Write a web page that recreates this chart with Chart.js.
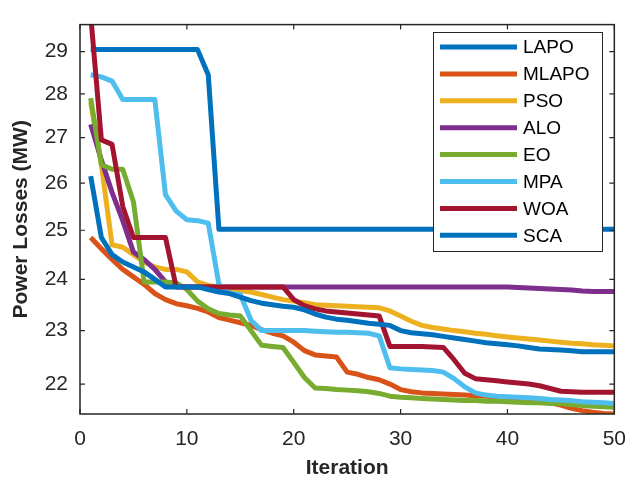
<!DOCTYPE html>
<html>
<head>
<meta charset="utf-8">
<script src="https://cdn.jsdelivr.net/npm/chart.js@4"></script>
<style>
  html, body { margin: 0; padding: 0; background: #fff; }
  #wrap { width: 639px; height: 482px; position: relative; }
</style>
</head>
<body>
<div id="wrap"><canvas id="chart"></canvas></div>
<script>
// iteration numbers on the x axis
const iterations = [1,2,3,4,5,6,7,8,9,10,11,12,13,14,15,16,17,18,19,20,21,22,23,24,25,
  26,27,28,29,30,31,32,33,34,35,36,37,38,39,40,41,42,43,44,45,46,47,48,49,50]

// power losses (MW) per algorithm
const LAPO = [29.05,29.05,29.05,29.05,29.05,29.05,29.05,29.05,29.05,29.05,29.05,28.45,25.02,25.02,25.02,
  25.02,25.02,25.02,25.02,25.02,25.02,25.02,25.02,25.02,25.02,25.02,25.02,25.02,25.02,25.02,
  25.02,25.02,25.02,25.02,25.02,25.02,25.02,25.02,25.02,25.02,25.02,25.02,25.02,25.02,25.02,
  25.02,25.02,25.02,25.02,25.02]
const MLAPO = [24.85,24.62,24.4,24.2,24.05,23.9,23.72,23.6,23.52,23.48,23.43,23.36,23.25,23.2,23.15,
  23.1,23.02,22.95,22.9,22.78,22.62,22.54,22.52,22.5,22.22,22.18,22.12,22.08,22.0,21.9,
  21.86,21.84,21.83,21.82,21.81,21.8,21.79,21.78,21.77,21.75,21.73,21.71,21.69,21.66,21.62,
  21.56,21.52,21.49,21.47,21.46]
const PSO = [27.8,26.4,24.7,24.65,24.5,24.35,24.25,24.2,24.2,24.15,23.95,23.88,23.85,23.82,23.78,
  23.75,23.7,23.65,23.6,23.57,23.54,23.5,23.49,23.48,23.47,23.46,23.45,23.44,23.38,23.28,
  23.18,23.1,23.06,23.03,23.0,22.98,22.95,22.93,22.9,22.88,22.86,22.84,22.82,22.8,22.78,
  22.76,22.75,22.73,22.72,22.71]
const ALO = [27.3,26.5,25.8,25.2,24.55,24.4,24.2,23.95,23.87,23.85,23.85,23.85,23.85,23.85,23.85,
  23.85,23.85,23.85,23.85,23.85,23.85,23.85,23.85,23.85,23.85,23.85,23.85,23.85,23.85,23.85,
  23.85,23.85,23.85,23.85,23.85,23.85,23.85,23.85,23.85,23.85,23.84,23.83,23.82,23.81,23.8,
  23.79,23.77,23.76,23.76,23.76]
const EO = [27.9,26.4,26.3,26.3,25.6,23.95,23.95,23.95,23.93,23.8,23.57,23.42,23.33,23.3,23.28,
  23.0,22.72,22.7,22.68,22.4,22.12,21.93,21.92,21.9,21.89,21.88,21.86,21.83,21.78,21.76,
  21.75,21.74,21.73,21.72,21.71,21.7,21.7,21.69,21.69,21.68,21.67,21.66,21.66,21.65,21.65,
  21.63,21.61,21.6,21.59,21.58]
const MPA = [28.45,28.4,28.3,27.87,27.87,27.87,27.87,25.75,25.4,25.22,25.2,25.15,23.9,23.72,23.7,
  23.2,23.0,23.0,23.0,23.0,23.0,22.99,22.98,22.97,22.97,22.96,22.95,22.9,22.3,22.28,
  22.27,22.26,22.25,22.22,22.1,21.95,21.84,21.8,21.78,21.77,21.76,21.75,21.74,21.72,21.71,
  21.7,21.68,21.67,21.66,21.65]
const WOA = [29.9,26.95,26.85,25.5,24.85,24.85,24.85,24.85,23.85,23.85,23.85,23.85,23.85,23.85,23.85,
  23.85,23.85,23.85,23.85,23.6,23.48,23.42,23.38,23.36,23.34,23.32,23.3,23.28,22.7,22.7,
  22.7,22.7,22.69,22.68,22.45,22.2,22.1,22.08,22.06,22.04,22.02,22.0,21.97,21.92,21.87,
  21.86,21.85,21.85,21.85,21.85]
const SCA = [26.15,24.85,24.5,24.35,24.25,24.15,24.0,23.85,23.85,23.85,23.85,23.8,23.75,23.72,23.65,
  23.58,23.53,23.5,23.47,23.45,23.4,23.32,23.26,23.22,23.2,23.17,23.14,23.12,23.1,23.0,
  22.96,22.94,22.92,22.89,22.86,22.83,22.8,22.77,22.75,22.73,22.71,22.68,22.65,22.64,22.63,
  22.62,22.6,22.6,22.6,22.6]

const seriesNames = ['LAPO', 'MLAPO', 'PSO', 'ALO', 'EO', 'MPA', 'WOA', 'SCA']
const seriesValues = [LAPO, MLAPO, PSO, ALO, EO, MPA, WOA, SCA]
const seriesColors = ['#0072BD', '#D95319', '#EDB120', '#7E2F8E', '#77AC30', '#4DBEEE', '#A2142F', '#0072BD']

const xTicks = [0, 10, 20, 30, 40, 50]
const yTicks = [22, 23, 24, 25, 26, 27, 28, 29]

const AXIS_COLOR = '#262626'
const FONT = '"Liberation Sans", Arial, Helvetica, sans-serif'

Chart.defaults.font.family = FONT
Chart.defaults.color = AXIS_COLOR

// MATLAB style box with ticks pointing inward on all four sides
const boxFrame = {
  id: 'boxFrame',
  afterDraw(chart) {
    const { ctx, chartArea: a, scales: { x, y } } = chart
    ctx.save()
    ctx.strokeStyle = AXIS_COLOR
    ctx.lineWidth = 1.5
    ctx.strokeRect(a.left, a.top, a.right - a.left, a.bottom - a.top)
    ctx.lineWidth = 1.2
    ctx.beginPath()
    x.ticks.forEach(t => {
      const px = x.getPixelForValue(t.value)
      ctx.moveTo(px, a.bottom); ctx.lineTo(px, a.bottom - 5)
      ctx.moveTo(px, a.top); ctx.lineTo(px, a.top + 5)
    })
    y.ticks.forEach(t => {
      const py = y.getPixelForValue(t.value)
      ctx.moveTo(a.left, py); ctx.lineTo(a.left + 5, py)
      ctx.moveTo(a.right, py); ctx.lineTo(a.right - 5, py)
    })
    ctx.stroke()
    ctx.restore()
  }
}

// legend box inside the axes, top right
const boxLegend = {
  id: 'boxLegend',
  afterDatasetsDraw(chart) {
    const ctx = chart.ctx
    const x0 = 433, y0 = 32, w = 169, h = 219
    ctx.save()
    ctx.fillStyle = '#fff'
    ctx.fillRect(x0, y0, w, h)
    ctx.strokeStyle = AXIS_COLOR
    ctx.lineWidth = 1
    ctx.strokeRect(x0 + 0.5, y0 + 0.5, w, h)
    ctx.font = '19px ' + FONT
    ctx.textBaseline = 'middle'
    ctx.textAlign = 'left'
    chart.data.datasets.forEach((ds, i) => {
      const ly = y0 + 15 + i * 26.9
      ctx.strokeStyle = ds.borderColor
      ctx.lineWidth = ds.borderWidth
      ctx.beginPath()
      ctx.moveTo(x0 + 7, ly)
      ctx.lineTo(x0 + 84, ly)
      ctx.stroke()
      ctx.fillStyle = '#000'
      ctx.fillText(ds.label, x0 + 90, ly + 1)
    })
    ctx.restore()
  }
}

new Chart(document.getElementById('chart'), {
  type: 'line',
  data: {
    labels: iterations,
    datasets: seriesNames.map((name, i) => ({
      label: name,
      data: seriesValues[i],
      borderColor: seriesColors[i],
      backgroundColor: seriesColors[i],
      borderWidth: 5,
      borderJoinStyle: 'round',
      pointRadius: 0,
      tension: 0,
      fill: false,
      order: seriesNames.length - i
    }))
  },
  options: {
    responsive: true,
    maintainAspectRatio: false,
    animation: false,
    layout: { padding: { top: 13, right: 18, bottom: 0, left: 0 } },
    plugins: {
      legend: { display: false },
      tooltip: { enabled: false }
    },
    scales: {
      x: {
        type: 'linear',
        min: 0,
        max: 50,
        afterBuildTicks: s => { s.ticks = xTicks.map(v => ({ value: v })) },
        afterFit: s => { s.height = 68 },
        grid: { display: false, drawTicks: false },
        border: { display: false },
        ticks: { padding: 13, font: { size: 21 }, color: AXIS_COLOR, maxRotation: 0 },
        title: { display: true, text: 'Iteration', font: { size: 21, weight: 'bold' }, color: AXIS_COLOR, padding: { top: 0, bottom: 1 } }
      },
      y: {
        type: 'logarithmic',
        min: 21.46,
        max: 29.66,
        afterBuildTicks: s => { s.ticks = yTicks.map(v => ({ value: v })) },
        afterFit: s => { s.width = 80 },
        grid: { display: false, drawTicks: false },
        border: { display: false },
        ticks: { padding: 12, font: { size: 21 }, color: AXIS_COLOR, callback: v => String(v) },
        title: { display: true, text: 'Power Losses (MW)', font: { size: 21, weight: 'bold' }, color: AXIS_COLOR, padding: { top: 9, bottom: 0 } }
      }
    }
  },
  plugins: [boxLegend, boxFrame]
})
</script>
</body>
</html>
